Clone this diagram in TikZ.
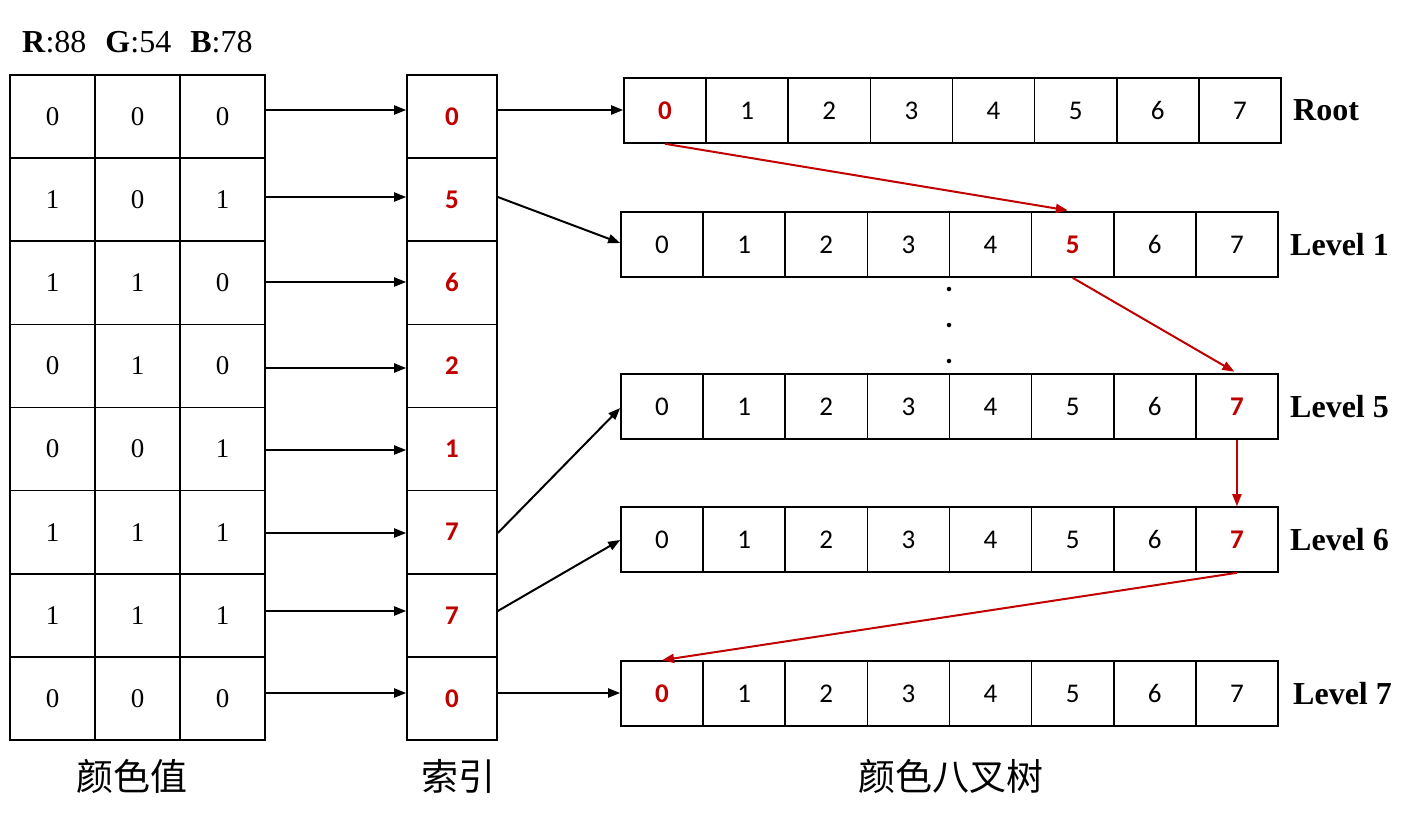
\documentclass[tikz,border=0pt]{standalone}
\usepackage{fontspec}
\setmainfont{Liberation Serif}
\newfontfamily\calib{Carlito}
\newfontfamily\cjk{Noto Sans CJK SC}
\usetikzlibrary{arrows.meta}
\definecolor{dred}{RGB}{192,0,0}
\tikzset{
  cell/.style={draw=black, line width=1.6pt, inner sep=0pt, minimum height=83.125pt, minimum width=85pt, font=\fontsize{27}{30}\selectfont},
  idxcell/.style={cell, minimum width=90pt, text=dred, font=\calib\bfseries\fontsize{27}{30}\selectfont},
  tcell/.style={draw=black, line width=1.6pt, inner sep=0pt, minimum height=65pt, minimum width=82.125pt, font=\calib\fontsize{27}{30}\selectfont},
  hot/.style={text=dred, font=\calib\bfseries\fontsize{27}{30}\selectfont},
  arr/.style={line width=2pt, -{Triangle[length=12pt,width=9pt]}},
  rarr/.style={arr, draw=dred, fill=dred},
  lvl/.style={anchor=west, inner sep=0pt, font=\bfseries\fontsize{32}{34}\selectfont},
  cn/.style={inner sep=0pt, font=\cjk\fontsize{37}{40}\selectfont},
  dotm/.style={fill=black, circle, inner sep=0pt, minimum size=4.5pt}
}
\begin{document}
\begin{tikzpicture}[x=1pt,y=-1pt]
\useasboundingbox (0,0) rectangle (1417,823);
% header
\node[anchor=west, inner sep=0pt, font=\fontsize{32}{34}\selectfont] (hdr) at (22,42) {\textbf{R}:88\hspace{19pt}\textbf{G}:54\hspace{19pt}\textbf{B}:78};
% left grid
\foreach \r/\a/\b/\c/\ix/\ay [count=\i] in {0/0/0/0/0/110, 1/1/0/1/5/197, 2/1/1/0/6/282, 3/0/1/0/2/368, 4/0/0/1/1/450, 5/1/1/1/7/533, 6/1/1/1/7/611, 7/0/0/0/0/693}{
  \pgfmathsetmacro\yy{75+83.125*\r+41.5625}
  \node[cell] (L-\i-1) at (52.5,\yy) {\a};
  \node[cell] (L-\i-2) at (137.5,\yy) {\b};
  \node[cell] (L-\i-3) at (222.5,\yy) {\c};
  \node[idxcell] (I-\i) at (452,\yy) {\ix};
  \coordinate (ay-\i) at (0,\ay);
  \draw[arr] (L-\i-3.east |- ay-\i) -- (I-\i.west |- ay-\i);
}
% tree rows
\foreach \rn/\x/\y/\hotk in {0/624/110.5/0, 1/621/244.5/5, 5/621/406.5/7, 6/621/539.5/7, 7/621/693.5/0}{
  \foreach \k in {0,...,7}{
    \pgfmathsetmacro\xx{\x+82.125*\k+41.0625}
    \ifnum\k=\hotk
      \node[tcell, hot] (T-\rn-\k) at (\xx,\y) {\k};
    \else
      \node[tcell] (T-\rn-\k) at (\xx,\y) {\k};
    \fi
  }
}
% labels
\node[lvl] (lr) at (1293,110.5) {Root};
\node[lvl] (l1) at (1290,244.5) {Level 1};
\node[lvl] (l5) at (1290,406.5) {Level 5};
\node[lvl] (l6) at (1290,539.5) {Level 6};
\node[lvl] (l7) at (1293,693.5) {Level 7};
% dots
\node[dotm] (d1) at (949,289) {};
\node[dotm] (d2) at (949,325) {};
\node[dotm] (d3) at (949,361) {};
% black arrows
\coordinate (t0) at (0,110);
\coordinate (t1) at (0,243);
\coordinate (t5) at (0,408);
\coordinate (t6) at (0,540);
\coordinate (t7) at (0,693);
\draw[arr] (I-1.east |- ay-1) -- (T-0-0.west |- t0);
\draw[arr] (I-2.east |- ay-2) -- (T-1-0.west |- t1);
\draw[arr] (I-6.east |- ay-6) -- (T-5-0.west |- t5);
\draw[arr] (I-7.east |- ay-7) -- (T-6-0.west |- t6);
\draw[arr] (I-8.east |- ay-8) -- (T-7-0.west |- t7);
% red arrows
\draw[rarr, shorten >=5pt] (T-0-0.south) -- (T-1-5.north);
\draw[rarr, shorten >=3pt] (T-1-5.south) -- (T-5-7.north);
\draw[rarr] (T-5-7.south) -- (T-6-7.north);
\draw[rarr] (T-6-7.south) -- (T-7-0.north);
% chinese captions
\node[cn] (c1) at (132,776) {颜色值};
\node[cn] (c2) at (458,776) {索引};
\node[cn] (c3) at (951,776) {颜色八叉树};
\end{tikzpicture}
\end{document}
